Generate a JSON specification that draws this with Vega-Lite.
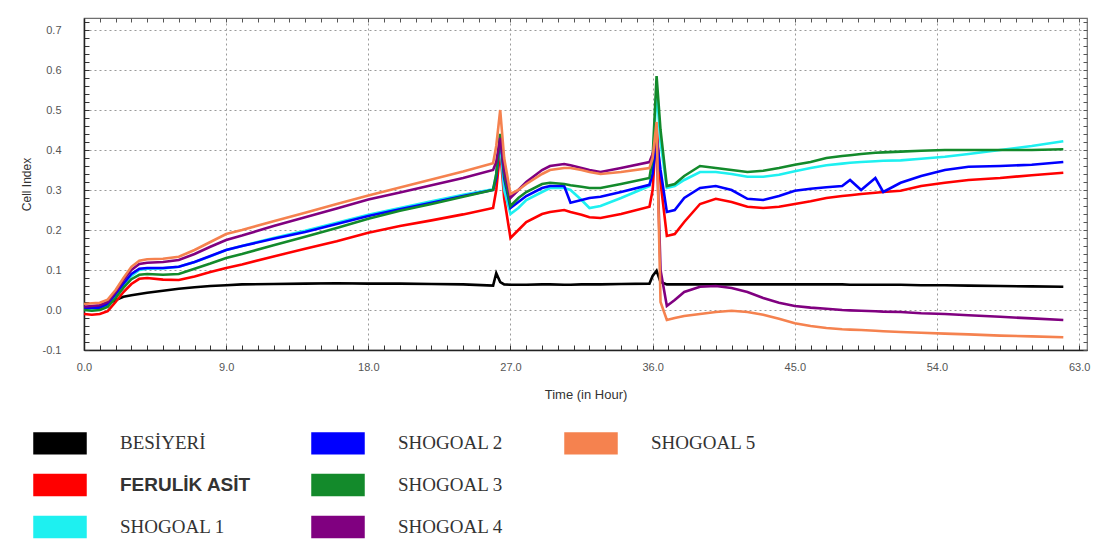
{
  "$schema": "https://vega.github.io/schema/vega-lite/v6.json",
  "autosize": {"type": "none"},
  "width": 1003,
  "height": 332,
  "padding": {"left": 84, "top": 18, "right": 22, "bottom": 197},
  "background": "#ffffff",
  "config": {
    "view": {"stroke": "#6f6f6f", "strokeWidth": 1.2},
    "axis": {"labelFont": "Liberation Sans", "titleFont": "Liberation Sans", "labelColor": "#555555", "titleColor": "#333333", "titleFontWeight": "normal"}
  },
  "data": {
    "values": [
      {"t": 0, "BESİYERİ": 0.005, "FERULİK ASİT": -0.01, "SHOGOAL 1": 0.002, "SHOGOAL 2": 0.005, "SHOGOAL 3": 0.0, "SHOGOAL 4": 0.008, "SHOGOAL 5": 0.015},
      {"t": 0.5, "BESİYERİ": 0.005, "FERULİK ASİT": -0.012, "SHOGOAL 1": 0.003, "SHOGOAL 2": 0.006, "SHOGOAL 3": -0.002, "SHOGOAL 4": 0.01, "SHOGOAL 5": 0.017},
      {"t": 1, "BESİYERİ": 0.008, "FERULİK ASİT": -0.01, "SHOGOAL 1": 0.004, "SHOGOAL 2": 0.006, "SHOGOAL 3": 0.0, "SHOGOAL 4": 0.012, "SHOGOAL 5": 0.018},
      {"t": 1.5, "BESİYERİ": 0.015, "FERULİK ASİT": -0.003, "SHOGOAL 1": 0.012, "SHOGOAL 2": 0.015, "SHOGOAL 3": 0.008, "SHOGOAL 4": 0.02, "SHOGOAL 5": 0.026},
      {"t": 2, "BESİYERİ": 0.025, "FERULİK ASİT": 0.02, "SHOGOAL 1": 0.035, "SHOGOAL 2": 0.04, "SHOGOAL 3": 0.03, "SHOGOAL 4": 0.045, "SHOGOAL 5": 0.05},
      {"t": 2.5, "BESİYERİ": 0.033, "FERULİK ASİT": 0.045, "SHOGOAL 1": 0.062, "SHOGOAL 2": 0.066, "SHOGOAL 3": 0.056, "SHOGOAL 4": 0.075, "SHOGOAL 5": 0.08},
      {"t": 3, "BESİYERİ": 0.037, "FERULİK ASİT": 0.065, "SHOGOAL 1": 0.085, "SHOGOAL 2": 0.09, "SHOGOAL 3": 0.077, "SHOGOAL 4": 0.1, "SHOGOAL 5": 0.108},
      {"t": 3.5, "BESİYERİ": 0.04, "FERULİK ASİT": 0.078, "SHOGOAL 1": 0.1, "SHOGOAL 2": 0.103, "SHOGOAL 3": 0.088, "SHOGOAL 4": 0.115, "SHOGOAL 5": 0.123},
      {"t": 4, "BESİYERİ": 0.043, "FERULİK ASİT": 0.08, "SHOGOAL 1": 0.103, "SHOGOAL 2": 0.105, "SHOGOAL 3": 0.09, "SHOGOAL 4": 0.118, "SHOGOAL 5": 0.127},
      {"t": 5, "BESİYERİ": 0.048, "FERULİK ASİT": 0.076, "SHOGOAL 1": 0.104, "SHOGOAL 2": 0.105, "SHOGOAL 3": 0.088, "SHOGOAL 4": 0.12, "SHOGOAL 5": 0.128},
      {"t": 6, "BESİYERİ": 0.053, "FERULİK ASİT": 0.075, "SHOGOAL 1": 0.108, "SHOGOAL 2": 0.108, "SHOGOAL 3": 0.09, "SHOGOAL 4": 0.125, "SHOGOAL 5": 0.133},
      {"t": 7, "BESİYERİ": 0.057, "FERULİK ASİT": 0.084, "SHOGOAL 1": 0.12, "SHOGOAL 2": 0.12, "SHOGOAL 3": 0.103, "SHOGOAL 4": 0.14, "SHOGOAL 5": 0.15},
      {"t": 8, "BESİYERİ": 0.06, "FERULİK ASİT": 0.095, "SHOGOAL 1": 0.134, "SHOGOAL 2": 0.135, "SHOGOAL 3": 0.116, "SHOGOAL 4": 0.158, "SHOGOAL 5": 0.17},
      {"t": 9, "BESİYERİ": 0.062, "FERULİK ASİT": 0.105, "SHOGOAL 1": 0.15, "SHOGOAL 2": 0.15, "SHOGOAL 3": 0.13, "SHOGOAL 4": 0.175, "SHOGOAL 5": 0.19},
      {"t": 10, "BESİYERİ": 0.064, "FERULİK ASİT": 0.114, "SHOGOAL 1": 0.16, "SHOGOAL 2": 0.16, "SHOGOAL 3": 0.14, "SHOGOAL 4": 0.186, "SHOGOAL 5": 0.2},
      {"t": 12, "BESİYERİ": 0.065, "FERULİK ASİT": 0.134, "SHOGOAL 1": 0.18, "SHOGOAL 2": 0.178, "SHOGOAL 3": 0.162, "SHOGOAL 4": 0.21, "SHOGOAL 5": 0.222},
      {"t": 14, "BESİYERİ": 0.066, "FERULİK ASİT": 0.153, "SHOGOAL 1": 0.198, "SHOGOAL 2": 0.195, "SHOGOAL 3": 0.183, "SHOGOAL 4": 0.232, "SHOGOAL 5": 0.243},
      {"t": 16, "BESİYERİ": 0.067, "FERULİK ASİT": 0.172, "SHOGOAL 1": 0.218, "SHOGOAL 2": 0.215, "SHOGOAL 3": 0.205, "SHOGOAL 4": 0.254, "SHOGOAL 5": 0.265},
      {"t": 18, "BESİYERİ": 0.066, "FERULİK ASİT": 0.193, "SHOGOAL 1": 0.238, "SHOGOAL 2": 0.235, "SHOGOAL 3": 0.228, "SHOGOAL 4": 0.276, "SHOGOAL 5": 0.286},
      {"t": 20, "BESİYERİ": 0.066, "FERULİK ASİT": 0.21, "SHOGOAL 1": 0.255, "SHOGOAL 2": 0.252, "SHOGOAL 3": 0.248, "SHOGOAL 4": 0.294, "SHOGOAL 5": 0.306},
      {"t": 22, "BESİYERİ": 0.065, "FERULİK ASİT": 0.224, "SHOGOAL 1": 0.272, "SHOGOAL 2": 0.268, "SHOGOAL 3": 0.265, "SHOGOAL 4": 0.312, "SHOGOAL 5": 0.326},
      {"t": 24, "BESİYERİ": 0.064, "FERULİK ASİT": 0.239, "SHOGOAL 1": 0.288, "SHOGOAL 2": 0.285, "SHOGOAL 3": 0.283, "SHOGOAL 4": 0.33, "SHOGOAL 5": 0.346},
      {"t": 25.9, "BESİYERİ": 0.061, "FERULİK ASİT": 0.255, "SHOGOAL 1": 0.302, "SHOGOAL 2": 0.3, "SHOGOAL 3": 0.3, "SHOGOAL 4": 0.35, "SHOGOAL 5": 0.367},
      {"t": 26.1, "BESİYERİ": 0.092, "FERULİK ASİT": 0.3, "SHOGOAL 1": 0.34, "SHOGOAL 2": 0.33, "SHOGOAL 3": 0.34, "SHOGOAL 4": 0.37, "SHOGOAL 5": 0.41},
      {"t": 26.35, "BESİYERİ": 0.07, "FERULİK ASİT": 0.4, "SHOGOAL 1": 0.42, "SHOGOAL 2": 0.44, "SHOGOAL 3": 0.44, "SHOGOAL 4": 0.43, "SHOGOAL 5": 0.5},
      {"t": 26.6, "BESİYERİ": 0.064, "FERULİK ASİT": 0.28, "SHOGOAL 1": 0.3, "SHOGOAL 2": 0.33, "SHOGOAL 3": 0.34, "SHOGOAL 4": 0.35, "SHOGOAL 5": 0.38},
      {"t": 27.0, "BESİYERİ": 0.063, "FERULİK ASİT": 0.18, "SHOGOAL 1": 0.24, "SHOGOAL 2": 0.255, "SHOGOAL 3": 0.26, "SHOGOAL 4": 0.28, "SHOGOAL 5": 0.29},
      {"t": 27.5, "BESİYERİ": 0.063, "FERULİK ASİT": 0.2, "SHOGOAL 1": 0.255, "SHOGOAL 2": 0.27, "SHOGOAL 3": 0.28, "SHOGOAL 4": 0.3, "SHOGOAL 5": 0.3},
      {"t": 28, "BESİYERİ": 0.063, "FERULİK ASİT": 0.22, "SHOGOAL 1": 0.275, "SHOGOAL 2": 0.285, "SHOGOAL 3": 0.295, "SHOGOAL 4": 0.32, "SHOGOAL 5": 0.315},
      {"t": 29, "BESİYERİ": 0.064, "FERULİK ASİT": 0.24, "SHOGOAL 1": 0.295, "SHOGOAL 2": 0.305, "SHOGOAL 3": 0.315, "SHOGOAL 4": 0.35, "SHOGOAL 5": 0.34},
      {"t": 29.5, "BESİYERİ": 0.064, "FERULİK ASİT": 0.245, "SHOGOAL 1": 0.305, "SHOGOAL 2": 0.31, "SHOGOAL 3": 0.318, "SHOGOAL 4": 0.36, "SHOGOAL 5": 0.35},
      {"t": 30.4, "BESİYERİ": 0.063, "FERULİK ASİT": 0.25, "SHOGOAL 1": 0.305, "SHOGOAL 2": 0.31, "SHOGOAL 3": 0.315, "SHOGOAL 4": 0.365, "SHOGOAL 5": 0.355},
      {"t": 30.8, "BESİYERİ": 0.063, "FERULİK ASİT": 0.245, "SHOGOAL 1": 0.3, "SHOGOAL 2": 0.268, "SHOGOAL 3": 0.312, "SHOGOAL 4": 0.362, "SHOGOAL 5": 0.355},
      {"t": 31.5, "BESİYERİ": 0.064, "FERULİK ASİT": 0.238, "SHOGOAL 1": 0.275, "SHOGOAL 2": 0.275, "SHOGOAL 3": 0.308, "SHOGOAL 4": 0.355, "SHOGOAL 5": 0.35},
      {"t": 32, "BESİYERİ": 0.064, "FERULİK ASİT": 0.232, "SHOGOAL 1": 0.255, "SHOGOAL 2": 0.28, "SHOGOAL 3": 0.305, "SHOGOAL 4": 0.35, "SHOGOAL 5": 0.345},
      {"t": 32.7, "BESİYERİ": 0.064, "FERULİK ASİT": 0.23, "SHOGOAL 1": 0.26, "SHOGOAL 2": 0.283, "SHOGOAL 3": 0.305, "SHOGOAL 4": 0.345, "SHOGOAL 5": 0.34},
      {"t": 34, "BESİYERİ": 0.065, "FERULİK ASİT": 0.24, "SHOGOAL 1": 0.28, "SHOGOAL 2": 0.295, "SHOGOAL 3": 0.315, "SHOGOAL 4": 0.355, "SHOGOAL 5": 0.345},
      {"t": 35.8, "BESİYERİ": 0.066, "FERULİK ASİT": 0.258, "SHOGOAL 1": 0.31, "SHOGOAL 2": 0.313, "SHOGOAL 3": 0.33, "SHOGOAL 4": 0.37, "SHOGOAL 5": 0.355},
      {"t": 36.0, "BESİYERİ": 0.085, "FERULİK ASİT": 0.3, "SHOGOAL 1": 0.36, "SHOGOAL 2": 0.34, "SHOGOAL 3": 0.38, "SHOGOAL 4": 0.39, "SHOGOAL 5": 0.38},
      {"t": 36.25, "BESİYERİ": 0.098, "FERULİK ASİT": 0.46, "SHOGOAL 1": 0.55, "SHOGOAL 2": 0.43, "SHOGOAL 3": 0.585, "SHOGOAL 4": 0.43, "SHOGOAL 5": 0.47},
      {"t": 36.5, "BESİYERİ": 0.07, "FERULİK ASİT": 0.32, "SHOGOAL 1": 0.42, "SHOGOAL 2": 0.35, "SHOGOAL 3": 0.45, "SHOGOAL 4": 0.1, "SHOGOAL 5": 0.02},
      {"t": 36.9, "BESİYERİ": 0.064, "FERULİK ASİT": 0.185, "SHOGOAL 1": 0.305, "SHOGOAL 2": 0.245, "SHOGOAL 3": 0.31, "SHOGOAL 4": 0.01, "SHOGOAL 5": -0.025},
      {"t": 37.4, "BESİYERİ": 0.064, "FERULİK ASİT": 0.19, "SHOGOAL 1": 0.31, "SHOGOAL 2": 0.25, "SHOGOAL 3": 0.315, "SHOGOAL 4": 0.025, "SHOGOAL 5": -0.02},
      {"t": 38, "BESİYERİ": 0.064, "FERULİK ASİT": 0.22, "SHOGOAL 1": 0.325, "SHOGOAL 2": 0.28, "SHOGOAL 3": 0.335, "SHOGOAL 4": 0.045, "SHOGOAL 5": -0.015},
      {"t": 39, "BESİYERİ": 0.064, "FERULİK ASİT": 0.265, "SHOGOAL 1": 0.345, "SHOGOAL 2": 0.305, "SHOGOAL 3": 0.36, "SHOGOAL 4": 0.058, "SHOGOAL 5": -0.01},
      {"t": 40, "BESİYERİ": 0.064, "FERULİK ASİT": 0.278, "SHOGOAL 1": 0.345, "SHOGOAL 2": 0.31, "SHOGOAL 3": 0.355, "SHOGOAL 4": 0.06, "SHOGOAL 5": -0.005},
      {"t": 41, "BESİYERİ": 0.064, "FERULİK ASİT": 0.27, "SHOGOAL 1": 0.34, "SHOGOAL 2": 0.3, "SHOGOAL 3": 0.35, "SHOGOAL 4": 0.055, "SHOGOAL 5": -0.002},
      {"t": 42, "BESİYERİ": 0.064, "FERULİK ASİT": 0.258, "SHOGOAL 1": 0.333, "SHOGOAL 2": 0.278, "SHOGOAL 3": 0.345, "SHOGOAL 4": 0.045, "SHOGOAL 5": -0.005},
      {"t": 43, "BESİYERİ": 0.064, "FERULİK ASİT": 0.255, "SHOGOAL 1": 0.333, "SHOGOAL 2": 0.275, "SHOGOAL 3": 0.348, "SHOGOAL 4": 0.03, "SHOGOAL 5": -0.012},
      {"t": 44, "BESİYERİ": 0.064, "FERULİK ASİT": 0.258, "SHOGOAL 1": 0.338, "SHOGOAL 2": 0.285, "SHOGOAL 3": 0.355, "SHOGOAL 4": 0.018, "SHOGOAL 5": -0.022},
      {"t": 45, "BESİYERİ": 0.064, "FERULİK ASİT": 0.265, "SHOGOAL 1": 0.347, "SHOGOAL 2": 0.298, "SHOGOAL 3": 0.363, "SHOGOAL 4": 0.01, "SHOGOAL 5": -0.033},
      {"t": 46, "BESİYERİ": 0.064, "FERULİK ASİT": 0.272, "SHOGOAL 1": 0.355, "SHOGOAL 2": 0.303, "SHOGOAL 3": 0.37, "SHOGOAL 4": 0.006, "SHOGOAL 5": -0.04},
      {"t": 47, "BESİYERİ": 0.064, "FERULİK ASİT": 0.28, "SHOGOAL 1": 0.362, "SHOGOAL 2": 0.307, "SHOGOAL 3": 0.38, "SHOGOAL 4": 0.003, "SHOGOAL 5": -0.045},
      {"t": 48, "BESİYERİ": 0.064, "FERULİK ASİT": 0.285, "SHOGOAL 1": 0.366, "SHOGOAL 2": 0.31, "SHOGOAL 3": 0.385, "SHOGOAL 4": 0.0, "SHOGOAL 5": -0.048},
      {"t": 48.5, "BESİYERİ": 0.063, "FERULİK ASİT": 0.287, "SHOGOAL 1": 0.368, "SHOGOAL 2": 0.325, "SHOGOAL 3": 0.387, "SHOGOAL 4": -0.001, "SHOGOAL 5": -0.049},
      {"t": 49.2, "BESİYERİ": 0.063, "FERULİK ASİT": 0.29, "SHOGOAL 1": 0.37, "SHOGOAL 2": 0.3, "SHOGOAL 3": 0.39, "SHOGOAL 4": -0.002, "SHOGOAL 5": -0.05},
      {"t": 50.1, "BESİYERİ": 0.063, "FERULİK ASİT": 0.293, "SHOGOAL 1": 0.372, "SHOGOAL 2": 0.33, "SHOGOAL 3": 0.393, "SHOGOAL 4": -0.003, "SHOGOAL 5": -0.052},
      {"t": 50.6, "BESİYERİ": 0.063, "FERULİK ASİT": 0.295, "SHOGOAL 1": 0.373, "SHOGOAL 2": 0.295, "SHOGOAL 3": 0.394, "SHOGOAL 4": -0.004, "SHOGOAL 5": -0.053},
      {"t": 51.7, "BESİYERİ": 0.063, "FERULİK ASİT": 0.298, "SHOGOAL 1": 0.374, "SHOGOAL 2": 0.318, "SHOGOAL 3": 0.396, "SHOGOAL 4": -0.005, "SHOGOAL 5": -0.055},
      {"t": 53, "BESİYERİ": 0.062, "FERULİK ASİT": 0.31, "SHOGOAL 1": 0.378, "SHOGOAL 2": 0.335, "SHOGOAL 3": 0.398, "SHOGOAL 4": -0.008, "SHOGOAL 5": -0.057},
      {"t": 54.5, "BESİYERİ": 0.062, "FERULİK ASİT": 0.318, "SHOGOAL 1": 0.383, "SHOGOAL 2": 0.35, "SHOGOAL 3": 0.4, "SHOGOAL 4": -0.01, "SHOGOAL 5": -0.059},
      {"t": 56, "BESİYERİ": 0.061, "FERULİK ASİT": 0.325, "SHOGOAL 1": 0.39, "SHOGOAL 2": 0.358, "SHOGOAL 3": 0.4, "SHOGOAL 4": -0.013, "SHOGOAL 5": -0.061},
      {"t": 58, "BESİYERİ": 0.06, "FERULİK ASİT": 0.33, "SHOGOAL 1": 0.4, "SHOGOAL 2": 0.36, "SHOGOAL 3": 0.4, "SHOGOAL 4": -0.017, "SHOGOAL 5": -0.064},
      {"t": 60, "BESİYERİ": 0.059, "FERULİK ASİT": 0.337, "SHOGOAL 1": 0.41, "SHOGOAL 2": 0.363, "SHOGOAL 3": 0.4, "SHOGOAL 4": -0.021, "SHOGOAL 5": -0.066},
      {"t": 62, "BESİYERİ": 0.058, "FERULİK ASİT": 0.343, "SHOGOAL 1": 0.422, "SHOGOAL 2": 0.37, "SHOGOAL 3": 0.402, "SHOGOAL 4": -0.025, "SHOGOAL 5": -0.068}
    ]
  },
  "transform": [
    {"fold": ["BESİYERİ", "FERULİK ASİT", "SHOGOAL 1", "SHOGOAL 2", "SHOGOAL 3", "SHOGOAL 4", "SHOGOAL 5"], "as": ["series", "ci"]}
  ],
  "layer": [
    {
      "mark": {"type": "point", "opacity": 0, "size": 1},
      "encoding": {
        "x": {
          "field": "t", "type": "quantitative",
          "scale": {"domain": [0, 63.5], "nice": false, "zero": false},
          "axis": {
            "orient": "top", "title": null, "labels": false, "domain": false, "grid": false,
            "values": [0,1,2,3,4,5,6,7,8,9,10,11,12,13,14,15,16,17,18,19,20,21,22,23,24,25,26,27,28,29,30,31,32,33,34,35,36,37,38,39,40,41,42,43,44,45,46,47,48,49,50,51,52,53,54,55,56,57,58,59,60,61,62,63],
            "tickSize": -4, "tickColor": "#555555"
          }
        },
        "y": {
          "field": "ci", "type": "quantitative",
          "scale": {"domain": [-0.1, 0.73], "nice": false, "zero": false},
          "axis": {
            "orient": "right", "title": null, "labels": false, "domain": false, "grid": false,
            "values": [-0.1,-0.08,-0.06,-0.04,-0.02,0,0.02,0.04,0.06,0.08,0.1,0.12,0.14,0.16,0.18,0.2,0.22,0.24,0.26,0.28,0.3,0.32,0.34,0.36,0.38,0.4,0.42,0.44,0.46,0.48,0.5,0.52,0.54,0.56,0.58,0.6,0.62,0.64,0.66,0.68,0.7,0.72],
            "tickSize": -4, "tickColor": "#555555"
          }
        }
      }
    },
    {
      "mark": {"type": "line", "strokeWidth": 2.6, "interpolate": "linear"},
      "encoding": {
        "x": {
          "field": "t", "type": "quantitative",
          "scale": {"domain": [0, 63.5], "nice": false, "zero": false},
          "axis": {
            "orient": "bottom", "title": "Time (in Hour)", "titleFontSize": 13, "titlePadding": 16,
            "values": [0,1,2,3,4,5,6,7,8,9,10,11,12,13,14,15,16,17,18,19,20,21,22,23,24,25,26,27,28,29,30,31,32,33,34,35,36,37,38,39,40,41,42,43,44,45,46,47,48,49,50,51,52,53,54,55,56,57,58,59,60,61,62,63],
            "labelExpr": "datum.value % 9 === 0 ? format(datum.value, '.1f') : ''",
            "labelFontSize": 11, "labelPadding": 16, "labelFlush": false, "labelOverlap": false,
            "tickSize": -5, "tickColor": "#333333", "domainColor": "#222222", "domainWidth": 1.5,
            "grid": true, "gridColor": "#9a9a9a", "gridDash": [2, 3],
            "gridOpacity": {"condition": {"test": "datum.value % 9 === 0", "value": 1}, "value": 0}
          }
        },
        "y": {
          "field": "ci", "type": "quantitative",
          "scale": {"domain": [-0.1, 0.73], "nice": false, "zero": false},
          "axis": {
            "orient": "left", "title": "Cell Index", "titleFontSize": 12, "titlePadding": 9,
            "values": [-0.1,-0.08,-0.06,-0.04,-0.02,0,0.02,0.04,0.06,0.08,0.1,0.12,0.14,0.16,0.18,0.2,0.22,0.24,0.26,0.28,0.3,0.32,0.34,0.36,0.38,0.4,0.42,0.44,0.46,0.48,0.5,0.52,0.54,0.56,0.58,0.6,0.62,0.64,0.66,0.68,0.7,0.72],
            "labelExpr": "abs(round(datum.value * 100)) % 10 === 0 ? (datum.value < 0 ? '-' : '') + format(abs(datum.value), '.1f') : ''",
            "labelFontSize": 11, "labelPadding": 28, "labelOverlap": false,
            "tickSize": -5, "tickColor": "#333333", "domainColor": "#222222", "domainWidth": 1.5,
            "grid": true, "gridColor": "#9a9a9a", "gridDash": [2, 3],
            "gridOpacity": {"condition": {"test": "abs(round(datum.value * 100)) % 10 === 0", "value": 1}, "value": 0}
          }
        },
        "color": {
          "field": "series", "type": "nominal",
          "scale": {
            "domain": ["BESİYERİ", "FERULİK ASİT", "SHOGOAL 1", "SHOGOAL 2", "SHOGOAL 3", "SHOGOAL 4", "SHOGOAL 5", " "],
            "range": ["#000000", "#ff0000", "#1ef0f0", "#0000ff", "#138a2b", "#800080", "#f5824f", "transparent"]
          },
          "legend": {
            "orient": "none", "legendX": -38, "legendY": 411, "columns": 3, "title": null, "padding": 0,
            "symbolType": "M-2,-0.8H2V0.8H-2Z", "symbolSize": 676, "symbolStrokeWidth": 1.5,
            "labelFont": "Liberation Serif", "labelFontSize": 19, "labelColor": "#333333", "labelOffset": 46, "labelLimit": 300,
            "rowPadding": 14, "columnPadding": 58,
            "encode": {
              "symbols": {"update": {
                "fill": {"scale": "color", "field": "value"},
                "stroke": {"signal": "datum.value === ' ' ? 'transparent' : '#222222'"},
                "strokeWidth": {"value": 1.5},
                "opacity": {"value": 1}
              }},
              "labels": {"update": {
                "font": {"signal": "datum.value === 'FERULİK ASİT' ? 'Liberation Sans' : 'Liberation Serif'"},
                "fontWeight": {"signal": "datum.value === 'FERULİK ASİT' ? 'bold' : 'normal'"}
              }}
            }
          }
        },
        "order": {"field": "t", "type": "quantitative"}
      }
    }
  ],
  "resolve": {"axis": {"x": "independent", "y": "independent"}}
}
